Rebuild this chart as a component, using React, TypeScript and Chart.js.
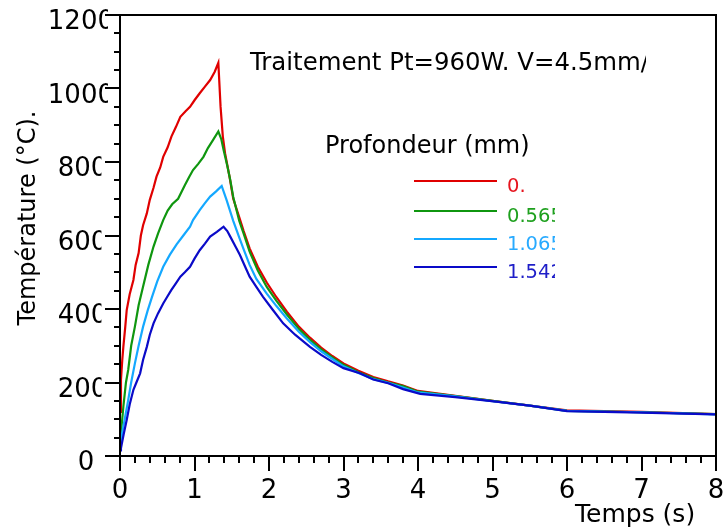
import React, { useEffect, useRef } from 'react';
import { Chart, registerables } from 'chart.js';

Chart.register(...registerables);

const titleText = 'Traitement Pt=960W. V=4.5mm/s';
const legendTitle = 'Profondeur (mm)';
const xTitle = 'Temps (s)';
const yTitle = 'Température (°C).';
const depthLabels = ['0.', '0.565', '1.065', '1.542'];
const lineColors = ['#e00000', '#0f960f', '#14a8ff', '#0a0ac8'];
const textColors = ['#e6141e', '#1ea01e', '#28aaff', '#1e1ec8'];

const xTicks = [0, 1, 2, 3, 4, 5, 6, 7, 8];
const xMinorStep = 0.2;
const yTicks = [0, 200, 400, 600, 800, 1000, 1200];
const yMinorStep = 50;

// [time (s), temperature (°C)]
const depth0: [number, number][] = [
  [0, 120], [0.013, 207], [0.03, 260], [0.045, 297], [0.07, 350], [0.09, 397], [0.13, 440], [0.18, 479],
  [0.21, 520], [0.25, 552], [0.28, 600], [0.31, 628], [0.36, 660], [0.4, 697], [0.45, 730], [0.49, 760],
  [0.54, 785], [0.58, 814], [0.64, 840], [0.69, 869], [0.75, 895], [0.81, 923], [0.88, 938], [0.94, 950],
  [1.0, 968], [1.07, 987], [1.14, 1005], [1.21, 1023], [1.27, 1045], [1.32, 1070], [1.35, 950], [1.38, 870],
  [1.41, 824], [1.47, 760], [1.52, 700], [1.6, 650], [1.66, 612], [1.74, 565], [1.85, 515], [1.97, 472],
  [2.1, 432], [2.24, 393], [2.4, 352], [2.55, 322], [2.7, 295], [2.85, 272], [3.0, 252], [3.2, 232],
  [3.4, 215], [3.6, 203], [3.8, 192], [4.0, 177], [4.5, 164], [5.0, 150], [5.5, 137], [6.0, 124],
  [7.0, 120], [8.0, 114],
];
const depth1: [number, number][] = [
  [0, 40], [0.013, 62], [0.045, 134], [0.08, 200], [0.11, 234], [0.15, 300], [0.2, 352], [0.25, 410],
  [0.31, 461], [0.38, 520], [0.45, 570], [0.51, 605], [0.58, 642], [0.64, 668], [0.7, 685], [0.78, 700],
  [0.87, 737], [0.93, 760], [0.98, 778], [1.05, 795], [1.12, 814], [1.18, 838], [1.25, 860], [1.32, 883],
  [1.36, 862], [1.39, 833], [1.44, 790], [1.48, 751], [1.52, 705], [1.6, 640], [1.66, 605], [1.74, 556],
  [1.85, 505], [1.97, 460], [2.1, 422], [2.24, 385], [2.4, 346], [2.55, 316], [2.7, 290], [2.85, 268],
  [3.0, 248], [3.2, 228], [3.4, 212], [3.6, 200], [3.8, 190], [4.0, 175], [4.5, 163], [5.0, 150],
  [5.5, 137], [6.0, 123], [7.0, 119], [8.0, 114],
];
const depth2: [number, number][] = [
  [0, 25], [0.013, 45], [0.045, 80], [0.11, 152], [0.15, 200], [0.2, 252], [0.25, 300], [0.31, 352],
  [0.37, 395], [0.43, 433], [0.5, 475], [0.58, 515], [0.67, 548], [0.76, 576], [0.85, 600], [0.94, 624],
  [0.98, 642], [1.07, 669], [1.14, 688], [1.21, 706], [1.29, 720], [1.365, 735], [1.43, 697], [1.52, 640],
  [1.6, 595], [1.66, 562], [1.74, 520], [1.83, 482], [1.97, 442], [2.1, 408], [2.24, 374], [2.4, 338],
  [2.55, 310], [2.7, 285], [2.85, 264], [3.0, 244], [3.2, 226], [3.4, 209], [3.6, 199], [3.8, 186],
  [4.0, 173], [4.5, 162], [5.0, 149], [5.5, 137], [6.0, 123], [7.0, 119], [8.0, 113],
];
const depth3: [number, number][] = [
  [0, 15], [0.013, 22], [0.05, 60], [0.09, 98], [0.13, 140], [0.18, 180], [0.22, 200], [0.27, 225],
  [0.31, 262], [0.36, 297], [0.4, 330], [0.45, 361], [0.51, 388], [0.58, 415], [0.63, 432], [0.69, 452],
  [0.75, 470], [0.81, 488], [0.87, 500], [0.94, 515], [1.0, 537], [1.07, 560], [1.14, 578], [1.21, 597],
  [1.3, 610], [1.39, 624], [1.44, 612], [1.48, 597], [1.55, 570], [1.61, 547], [1.68, 515], [1.74, 488],
  [1.83, 460], [1.92, 433], [2.05, 398], [2.19, 361], [2.35, 330], [2.55, 297], [2.7, 275], [2.85, 256],
  [3.0, 239], [3.22, 225], [3.4, 208], [3.6, 198], [3.8, 182], [4.03, 169], [4.5, 160], [5.05, 148],
  [5.5, 137], [6.0, 122], [7.0, 118], [8.0, 113],
];
const seriesData = [depth0, depth1, depth2, depth3];

const FONT = '"DejaVu Sans", sans-serif';

const decorPlugin = {
  id: 'decor',
  afterDraw(chart: any) {
    const ctx: CanvasRenderingContext2D = chart.ctx;
    const xs = chart.scales.x;
    const ys = chart.scales.y;
    const a = chart.chartArea;
    ctx.save();
    ctx.strokeStyle = '#000';
    ctx.fillStyle = '#000';
    ctx.lineWidth = 2;
    ctx.strokeRect(a.left, a.top, a.right - a.left, a.bottom - a.top);

    // y ticks
    const yMin = yTicks[0];
    const yMax = yTicks[yTicks.length - 1];
    for (let v = yMin; v <= yMax + 1e-6; v += yMinorStep) {
      const py = Math.round(ys.getPixelForValue(v));
      const major = yTicks.includes(v);
      ctx.beginPath();
      ctx.moveTo(a.left - (major ? 15 : 6), py);
      ctx.lineTo(a.left, py);
      ctx.stroke();
    }
    // x ticks
    const xMin = xTicks[0];
    const xMax = xTicks[xTicks.length - 1];
    for (let i = 0; xMin + i * xMinorStep <= xMax + 1e-6; i++) {
      const v = xMin + i * xMinorStep;
      const px = Math.round(xs.getPixelForValue(v));
      const major = Math.abs(v - Math.round(v)) < 1e-6;
      ctx.beginPath();
      ctx.moveTo(px, a.bottom);
      ctx.lineTo(px, a.bottom + (major ? 15 : 7));
      ctx.stroke();
    }

    // x tick labels
    ctx.font = `26px ${FONT}`;
    ctx.textAlign = 'center';
    ctx.textBaseline = 'alphabetic';
    xTicks.forEach((v) => {
      ctx.fillText(String(v), xs.getPixelForValue(v), a.bottom + 42);
    });

    // y tick labels (clipped on the right like the original)
    yTicks.forEach((v) => {
      const s = String(v);
      const w = ctx.measureText(s).width;
      const center = 86 - (s.length - 1) * 1.7;
      const right = center + w / 2;
      const py = ys.getPixelForValue(v);
      ctx.save();
      if (s.length > 1) {
        ctx.beginPath();
        ctx.rect(0, py - 40, right - 6, 80);
        ctx.clip();
      }
      ctx.textAlign = 'center';
      ctx.fillText(s, center, py + 14);
      ctx.restore();
    });

    // axis titles
    ctx.font = `25px ${FONT}`;
    ctx.textAlign = 'left';
    ctx.fillText(xTitle, 575, 522);
    ctx.save();
    ctx.font = `24px ${FONT}`;
    ctx.translate(35, 218);
    ctx.rotate(-Math.PI / 2);
    ctx.textAlign = 'center';
    ctx.fillText(yTitle, 0, 0);
    ctx.restore();

    // title text clipped
    ctx.save();
    ctx.beginPath();
    ctx.rect(0, 0, 646, 530);
    ctx.clip();
    ctx.font = `24.4px ${FONT}`;
    ctx.textAlign = 'left';
    ctx.fillText(titleText, 250, 70);
    ctx.restore();

    ctx.font = `24px ${FONT}`;
    ctx.fillText(legendTitle, 325, 153);

    // legend
    const legY = [181, 211, 239, 267];
    depthLabels.forEach((lab, i) => {
      ctx.strokeStyle = lineColors[i];
      ctx.lineWidth = 2;
      ctx.beginPath();
      ctx.moveTo(414, legY[i]);
      ctx.lineTo(497, legY[i]);
      ctx.stroke();
      ctx.save();
      ctx.beginPath();
      ctx.rect(0, 0, 555, 530);
      ctx.clip();
      ctx.font = `19.5px ${FONT}`;
      ctx.fillStyle = textColors[i];
      ctx.textAlign = 'left';
      ctx.fillText(lab, 507, legY[i] + 11);
      ctx.restore();
    });
    ctx.restore();
  },
};

export default function App() {
  const ref = useRef<HTMLCanvasElement | null>(null);
  useEffect(() => {
    if (!ref.current) return;
    const chart = new Chart(ref.current, {
      type: 'line',
      data: {
        datasets: seriesData.map((s, i) => ({
          label: depthLabels[i],
          data: s.map(([x, y]) => ({ x, y })),
          borderColor: lineColors[i],
          backgroundColor: lineColors[i],
          borderWidth: 2.2,
          pointRadius: 0,
          tension: 0,
          fill: false,
          order: 4 - i,
        })),
      },
      options: {
        responsive: false,
        animation: false,
        layout: { padding: { left: 120, top: 15, right: 10, bottom: 74 } },
        plugins: { legend: { display: false }, tooltip: { enabled: false } },
        scales: {
          x: { type: 'linear', min: 0, max: 8, display: false },
          y: { type: 'linear', min: 0, max: 1200, display: false },
        },
      },
      plugins: [decorPlugin],
    });
    return () => chart.destroy();
  }, []);
  return (
    <div style={{ position: 'absolute', left: 0, top: 0, width: 726, height: 530, background: '#fff' }}>
      <canvas ref={ref} width={726} height={530} />
    </div>
  );
}
